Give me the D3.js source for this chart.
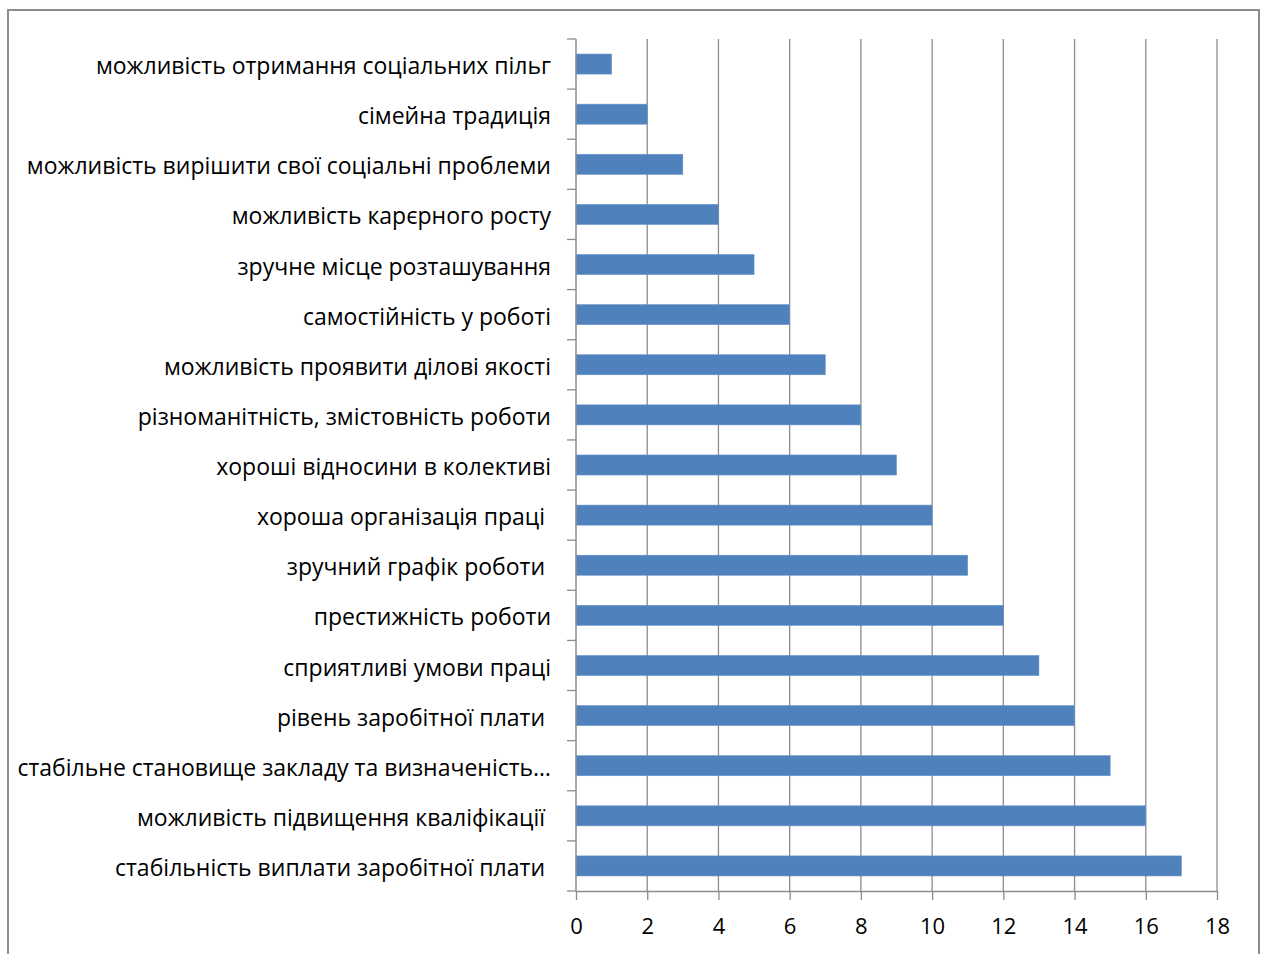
<!DOCTYPE html>
<html>
<head>
<meta charset="utf-8">
<script src="https://cdn.jsdelivr.net/npm/d3@7"></script>
<style>
  html, body { margin: 0; padding: 0; background: #fff; }
  svg text { font-family: "Open Sans", "Noto Sans", sans-serif; fill: #000; white-space: pre; }
</style>
</head>
<body>
<svg id="chart" width="1267" height="954"></svg>
<script>
// Motives for choosing the job, number of responses (top to bottom)
const categories = [
  "можливість отримання соціальних пільг",
  "сімейна традиція",
  "можливість вирішити свої соціальні проблеми",
  "можливість карєрного росту",
  "зручне місце розташування",
  "самостійність у роботі",
  "можливість проявити ділові якості",
  "різноманітність, змістовність роботи",
  "хороші відносини в колективі",
  "хороша організація праці ",
  "зручний графік роботи ",
  "престижність роботи",
  "сприятливі умови праці",
  "рівень заробітної плати ",
  "стабільне становище закладу та визначеність…",
  "можливість підвищення кваліфікації ",
  "стабільність виплати заробітної плати "
];
const values = [1, 2, 3, 4, 5, 6, 7, 8, 9, 10, 11, 12, 13, 14, 15, 16, 17];
const xTicks = [0, 2, 4, 6, 8, 10, 12, 14, 16, 18];

const svg = d3.select("#chart");

// outer chart frame
svg.append("rect")
  .attr("x", 8).attr("y", 10)
  .attr("width", 1251).attr("height", 960)
  .attr("fill", "none").attr("stroke", "#8c8c8c").attr("stroke-width", 2);

const plot = { left: 576, right: 1217, top: 39, bottom: 891 };

const x = d3.scaleLinear().domain([0, 18]).range([plot.left, plot.right]);
const y = d3.scaleBand().domain(categories).range([plot.top, plot.bottom])
  .paddingInner(0.6).paddingOuter(0.3);

// vertical gridlines
svg.append("g").selectAll("line")
  .data(xTicks.filter(t => t > 0))
  .join("line")
  .attr("x1", d => x(d)).attr("x2", d => x(d))
  .attr("y1", plot.top).attr("y2", plot.bottom)
  .attr("stroke", "#8c8c8c").attr("stroke-width", 1.3);

// bars
svg.append("g").selectAll("rect")
  .data(categories.map((c, i) => ({ c, v: values[i] })))
  .join("rect")
  .attr("x", x(0))
  .attr("y", d => y(d.c))
  .attr("width", d => x(d.v) - x(0))
  .attr("height", y.bandwidth())
  .attr("fill", "#4f81bd")
  .attr("stroke", "#6a95cc").attr("stroke-width", 0.6);

// bottom value axis
const xAxis = svg.append("g")
  .attr("transform", `translate(0,${plot.bottom})`)
  .call(d3.axisBottom(x).tickValues(xTicks).tickSize(9).tickPadding(18).tickSizeOuter(0));
xAxis.select(".domain").attr("stroke", "#8c8c8c").attr("stroke-width", 1.5);
xAxis.selectAll(".tick line").attr("stroke", "#8c8c8c").attr("stroke-width", 1.3);
xAxis.selectAll(".tick text").attr("font-size", 22).attr("fill", "#000")
  .style("font-family", "\"Open Sans\", \"Noto Sans\", sans-serif");

// left category axis with boundary ticks
const step = y.step();
const bounds = d3.range(categories.length + 1).map(i => plot.top + i * step);
svg.append("line")
  .attr("x1", plot.left).attr("x2", plot.left)
  .attr("y1", plot.top).attr("y2", plot.bottom)
  .attr("stroke", "#8c8c8c").attr("stroke-width", 1.5);
svg.append("g").selectAll("line")
  .data(bounds)
  .join("line")
  .attr("x1", plot.left - 9).attr("x2", plot.left)
  .attr("y1", d => d).attr("y2", d => d)
  .attr("stroke", "#8c8c8c").attr("stroke-width", 1.3);

svg.append("g").selectAll("text")
  .data(categories)
  .join("text")
  .attr("x", plot.left - 25)
  .attr("y", d => y(d) + y.bandwidth() / 2 + 2)
  .attr("dy", "0.35em")
  .attr("text-anchor", "end")
  .attr("font-size", 23)
  .text(d => d);
</script>
</body>
</html>
